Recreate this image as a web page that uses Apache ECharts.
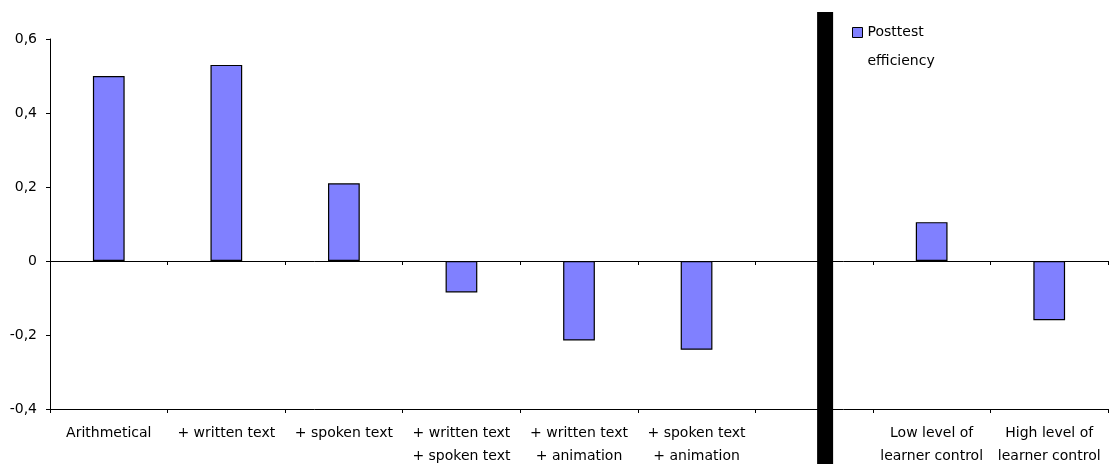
<!DOCTYPE html>
<html>
<head>
<meta charset="utf-8">
<script src="https://cdn.jsdelivr.net/npm/echarts@6/dist/echarts.min.js"></script>
<style>
  html, body { margin: 0; padding: 0; background: #fff; }
  #main { width: 1109px; height: 464px; }
</style>
</head>
<body>
<div id="main"></div>
<script>
const categories = [
  'Arithmetical',
  '+ written text',
  '+ spoken text',
  '+ written text\n+ spoken text',
  '+ written text\n+ animation',
  '+ spoken text\n+ animation',
  '',
  'Low level of\nlearner control',
  'High level of\nlearner control'
]
const efficiency = [0.50, 0.53, 0.21, -0.085, -0.215, -0.24, null, 0.105, -0.16]
const yTicks = { min: -0.4, max: 0.6, step: 0.2 }
const seriesName = 'Posttest efficiency'

const font = 'DejaVu Sans'
const myChart = echarts.init(document.getElementById('main'))

const fmt = v => {
  if (Math.abs(v) < 1e-9) return '0'
  return String(+v.toFixed(1)).replace('.', ',')
}

const option = {
  animation: false,
  backgroundColor: '#fff',
  textStyle: { fontFamily: font },
  grid: { left: 50, right: 1, top: 39, bottom: 55, containLabel: false, outerBoundsMode: 'none' },
  legend: {
    left: 852,
    top: -11,
    padding: 0,
    icon: 'rect',
    itemWidth: 10,
    itemHeight: 10,
    itemGap: 0,
    itemStyle: { borderColor: '#000', borderWidth: 1 },
    // empty first line keeps "Posttest" level with the swatch
    formatter: () => ' \nPosttest\nefficiency',
    textStyle: {
      fontFamily: font,
      fontSize: 14,
      color: '#000',
      lineHeight: 29
    },
    data: [seriesName]
  },
  xAxis: [
    {
      type: 'category',
      data: categories,
      position: 'bottom',
      axisLine: { onZero: false, lineStyle: { color: '#000', width: 1 } },
      axisTick: { show: true, length: 4, lineStyle: { color: '#000' } },
      axisLabel: {
        color: '#000',
        fontFamily: font,
        fontSize: 14,
        lineHeight: 23,
        margin: 13,
        interval: 0
      },
      splitLine: { show: false }
    },
    {
      type: 'category',
      data: categories,
      position: 'bottom',
      axisLine: { onZero: true, lineStyle: { color: '#000', width: 1 } },
      axisTick: { show: true, length: 4, lineStyle: { color: '#000' } },
      axisLabel: { show: false },
      splitLine: { show: false }
    }
  ],
  yAxis: {
    type: 'value',
    min: yTicks.min,
    max: yTicks.max,
    interval: yTicks.step,
    axisLine: { show: true, lineStyle: { color: '#000', width: 1 } },
    axisTick: { show: true, length: 4, lineStyle: { color: '#000' } },
    axisLabel: {
      color: '#000',
      fontFamily: font,
      fontSize: 14,
      margin: 13,
      formatter: fmt
    },
    splitLine: { show: false }
  },
  series: [
    {
      name: seriesName,
      type: 'bar',
      xAxisIndex: 0,
      data: efficiency,
      barWidth: '27%',
      itemStyle: {
        color: '#8080ff',
        borderColor: '#000',
        borderWidth: 1.2
      }
    }
  ]
}

myChart.setOption(option)

// thick black separator between the two groups
const cx = myChart.convertToPixel({ xAxisIndex: 0 }, 6)
myChart.setOption({
  graphic: [
    {
      type: 'rect',
      shape: { x: cx + 3, y: 12, width: 16, height: 452 },
      style: { fill: '#000' },
      z: 100
    }
  ]
})

window.addEventListener('resize', () => {
  myChart.resize()
})
</script>
</body>
</html>
